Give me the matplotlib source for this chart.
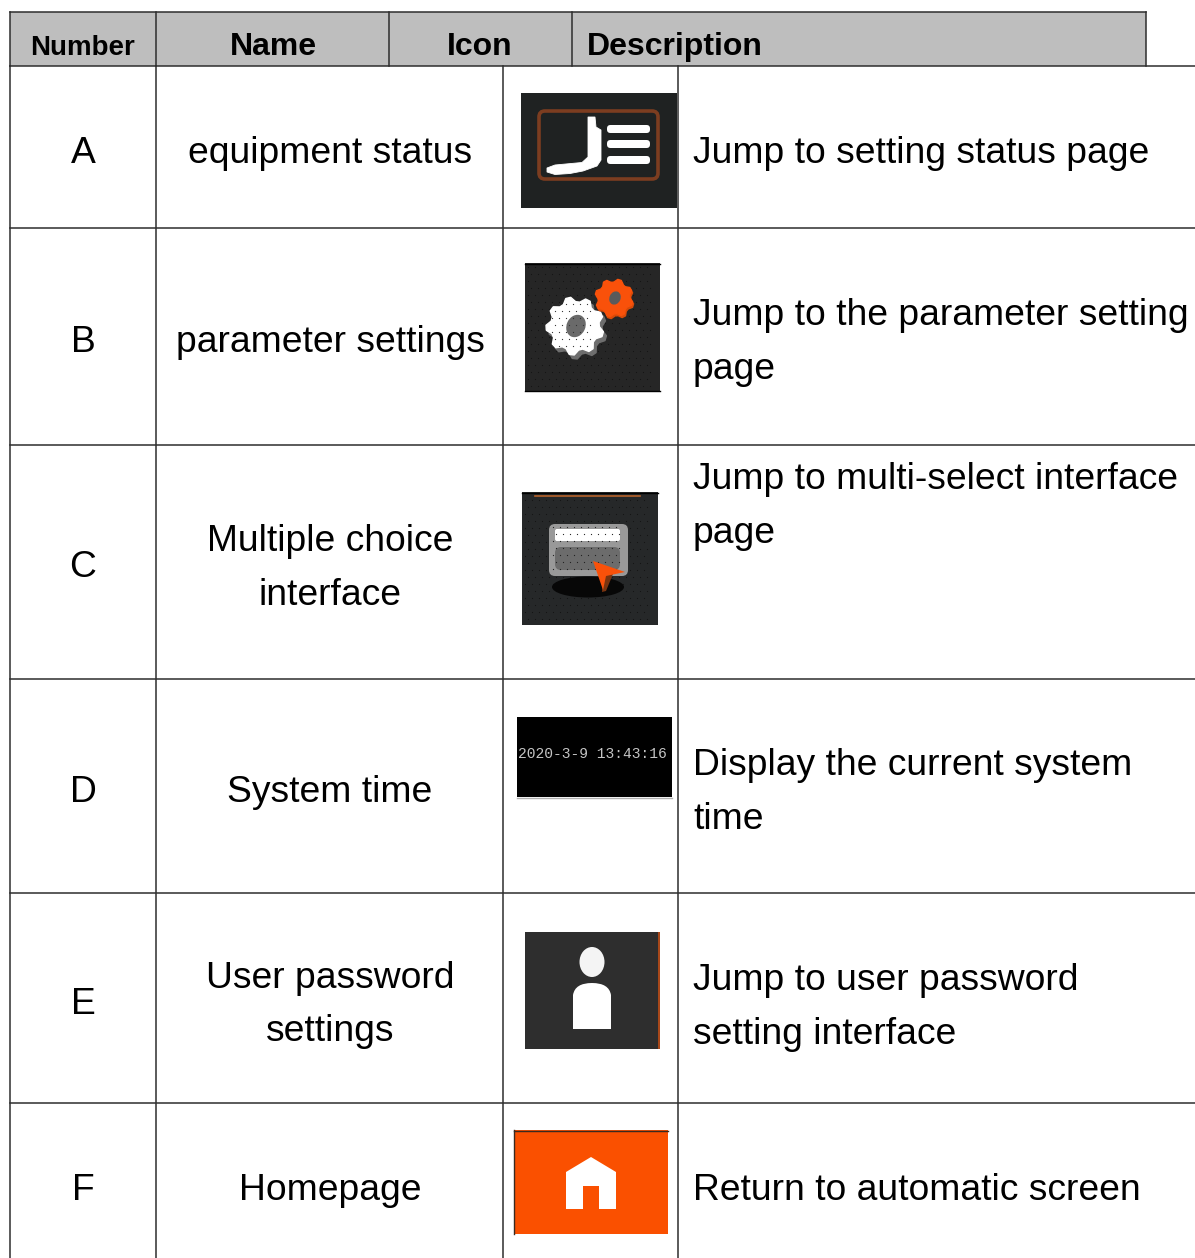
import numpy as np
import matplotlib
matplotlib.use("Agg")
import matplotlib.pyplot as plt
from matplotlib.patches import Rectangle, FancyBboxPatch, Ellipse, Polygon, PathPatch
from matplotlib.path import Path

W, H = 1195, 1258
FONT = "Liberation Sans"

header_labels = ["Number", "Name", "Icon", "Description"]
numbers = ["A", "B", "C", "D", "E", "F"]
names = [["equipment status"], ["parameter settings"], ["Multiple choice", "interface"],
         ["System time"], ["User password", "settings"], ["Homepage"]]
descriptions = [["Jump to setting status page"],
                ["Jump to the parameter setting", "page"],
                ["Jump to multi-select interface", "page"],
                ["Display the current system", "time"],
                ["Jump to user password", "setting interface"],
                ["Return to automatic screen"]]
clock_text = "2020-3-9 13:43:16"

header_cols = [10, 156, 389, 572, 1146]
body_cols = [10, 156, 503, 678]
row_lines = [66, 228, 445, 679, 893, 1103]
number_base = [163, 352, 577, 802, 1014, 1200]
name_base = [[163], [352], [551, 605], [802], [988, 1041], [1200]]
desc_base = [[163], [325, 379], [489, 543], [775, 829], [990, 1044], [1200]]

fig = plt.figure(figsize=(W / 100, H / 100), dpi=100, facecolor="white")
ax = fig.add_axes([0, 0, 1, 1])
ax.set_xlim(0, W)
ax.set_ylim(H, 0)
ax.axis("off")

LC = "#2e2e2e"
BODY = 26.85

# header band
ax.add_patch(Rectangle((header_cols[0], 12), header_cols[-1] - header_cols[0], 54,
                       fc="#bebebe", ec="none", zorder=1))
ax.plot([header_cols[0], header_cols[-1]], [12, 12], color=LC, lw=1.1, zorder=3)
for x in header_cols:
    ax.plot([x, x], [12, 66], color=LC, lw=1.1, zorder=3)

# grid
for y in row_lines:
    ax.plot([10, W], [y, y], color=LC, lw=1.1, zorder=3)
for x in body_cols:
    ax.plot([x, x], [66, H], color=LC, lw=1.1, zorder=3)

# header text
ax.text(83, 55, header_labels[0], ha="center", va="baseline", family=FONT,
        weight="bold", fontsize=20, color="black", zorder=5)
ax.text(273, 55, header_labels[1], ha="center", va="baseline", family=FONT,
        weight="bold", fontsize=23, color="black", zorder=5)
ax.text(480, 55, header_labels[2], ha="center", va="baseline", family=FONT,
        weight="bold", fontsize=23, color="black", zorder=5)
ax.text(587, 55, header_labels[3], ha="left", va="baseline", family=FONT,
        weight="bold", fontsize=23, color="black", zorder=5)

# body text
for i in range(len(numbers)):
    ax.text(83, number_base[i], numbers[i], ha="center", va="baseline",
            family=FONT, fontsize=BODY, color="black", zorder=5)
    for line, y in zip(names[i], name_base[i]):
        ax.text(330, y, line, ha="center", va="baseline", family=FONT,
                fontsize=BODY, color="black", zorder=5)
    for line, y in zip(descriptions[i], desc_base[i]):
        ax.text(693, y, line, ha="left", va="baseline", family=FONT,
                fontsize=BODY, color="black", zorder=5)


def box(x0, y0, x1, y1, color, z=2):
    ax.add_patch(Rectangle((x0, y0), x1 - x0, y1 - y0, fc=color, ec="none", zorder=z))


def rbox(x0, y0, x1, y1, r, fc, ec="none", lw=0, z=3):
    ax.add_patch(FancyBboxPatch((x0 + r, y0 + r), x1 - x0 - 2 * r, y1 - y0 - 2 * r,
                                boxstyle=f"round,pad={r}", fc=fc, ec=ec, lw=lw, zorder=z))


def dots(x0, y0, x1, y1, step, color, z=4, s=0.8):
    xs, ys = np.meshgrid(np.arange(x0, x1 - step, step), np.arange(y0, y1, step))
    xs = xs.astype(float)
    xs[1::2] += step / 2
    ax.scatter(xs.ravel(), ys.ravel(), s=s, c=color, linewidths=0, zorder=z)


def gear(cx, cy, r, hole, teeth, color, holecolor, z=4, phase=0.2, depth=0.84):
    n = teeth * 4
    ang = np.arange(n) * 2 * np.pi / n + phase
    rad = np.where(np.arange(n) % 4 < 2, r, r * depth)
    pts = np.c_[cx + rad * np.cos(ang), cy + rad * np.sin(ang)]
    ax.add_patch(Polygon(pts, closed=True, fc=color, ec=color, lw=1.0,
                         joinstyle="round", zorder=z))
    if hole:
        ax.add_patch(Ellipse((cx + 1, cy), hole * 1.7, hole * 2.1, angle=25,
                             fc=holecolor, ec="none", zorder=z + 1))


# icon A
box(521, 93, 677, 208, "#1f2222")
rbox(539, 111, 658, 179, 6, "none", ec="#7c3d20", lw=2.6)
for y in (129, 144, 160):
    rbox(607, y - 4, 650, y + 4, 3.5, "white", z=4)
ax.add_patch(Polygon(
    [(588, 117), (595, 117), (596, 127), (601, 130), (601, 160), (597, 166),
     (583, 171), (570, 173.5), (555, 174.5), (547, 172), (547, 168), (555, 165),
     (582, 162.5), (588, 157)],
    closed=True, fc="white", ec="white", lw=0.6, zorder=4))

# icon B
box(525, 263, 660, 391, "#262626")
ax.plot([525, 660], [263.5, 263.5], color="black", lw=1, zorder=3)
ax.plot([525, 660], [391, 391], color="black", lw=1, zorder=3)
dots(528, 267, 660, 390, 7, "#141414", s=0.7)
gear(578, 330, 29, 0, 9, "#6e6e6e", "#6e6e6e", z=4)
gear(575, 326, 29, 11, 9, "white", "#6a6a6a", z=5)
dots(552, 304, 600, 350, 7, "#333333", z=7, s=0.8)
gear(615, 300, 19, 0, 8, "#d94a08", "#d94a08", z=6)
gear(614, 298, 19, 6.5, 8, "#f9510a", "#5a5a5a", z=7)

# icon C
box(522, 492, 658, 625, "#262829")
ax.plot([522, 658], [492.5, 492.5], color="black", lw=1, zorder=3)
ax.plot([535, 640], [495.5, 495.5], color="#b5622b", lw=1.2, zorder=3)
dots(525, 500, 657, 624, 7, "#141414", s=0.7)
ax.add_patch(Ellipse((588, 587), 72, 21, fc="#070707", ec="none", zorder=4))
rbox(549, 524, 628, 576, 6, "#999999", z=5)
rbox(555, 529, 620, 541, 2, "white", z=6)
rbox(555, 547, 620, 570, 6, "#6c6c6c", z=6)
dots(553, 527, 627, 574, 7, "#222222", z=7, s=0.8)
ax.add_patch(Polygon([(604, 572), (613, 574), (606, 591), (602, 592)], closed=True,
                     fc="#7a3410", ec="none", zorder=8))
ax.add_patch(Polygon([(593, 561), (625, 572), (606, 576), (603, 590)], closed=True,
                     fc="#f9510a", ec="none", zorder=9))

# icon D
box(517, 717, 672, 797, "black")
ax.plot([517, 672], [798, 798], color="#b0b0b0", lw=1, zorder=3)
ax.text(592, 754, clock_text, ha="center", va="center", family="Liberation Mono",
        fontsize=10.5, color="#c4c4c4", zorder=5)

# icon E
box(525, 932, 658, 1049, "#2e2e2e")
box(658, 932, 660, 1049, "#a8481a")
ax.add_patch(Ellipse((592, 962), 25, 30, fc="#f4f4f4", ec="none", zorder=4))
ax.add_patch(PathPatch(Path(
    [(573, 1029), (573, 995), (575, 983), (592, 983), (609, 983), (611, 995), (611, 1029), (573, 1029)],
    [Path.MOVETO, Path.LINETO, Path.CURVE3, Path.CURVE3, Path.CURVE3, Path.CURVE3, Path.LINETO, Path.CLOSEPOLY]),
    fc="white", ec="none", zorder=4))

# icon F
box(514, 1130, 668, 1234, "#fa5000")
ax.plot([514, 668], [1130.5, 1130.5], color="#3a2a20", lw=1.0, zorder=3)
ax.plot([514.5, 514.5], [1130, 1234], color="#3a2a20", lw=1.0, zorder=3)
ax.add_patch(Polygon([(566, 1209), (566, 1172), (591, 1157), (616, 1172), (616, 1209),
                      (599, 1209), (599, 1186), (583, 1186), (583, 1209)], closed=True,
                     fc="white", ec="none", zorder=4))

fig.savefig("out.png", dpi=100, facecolor="white")
